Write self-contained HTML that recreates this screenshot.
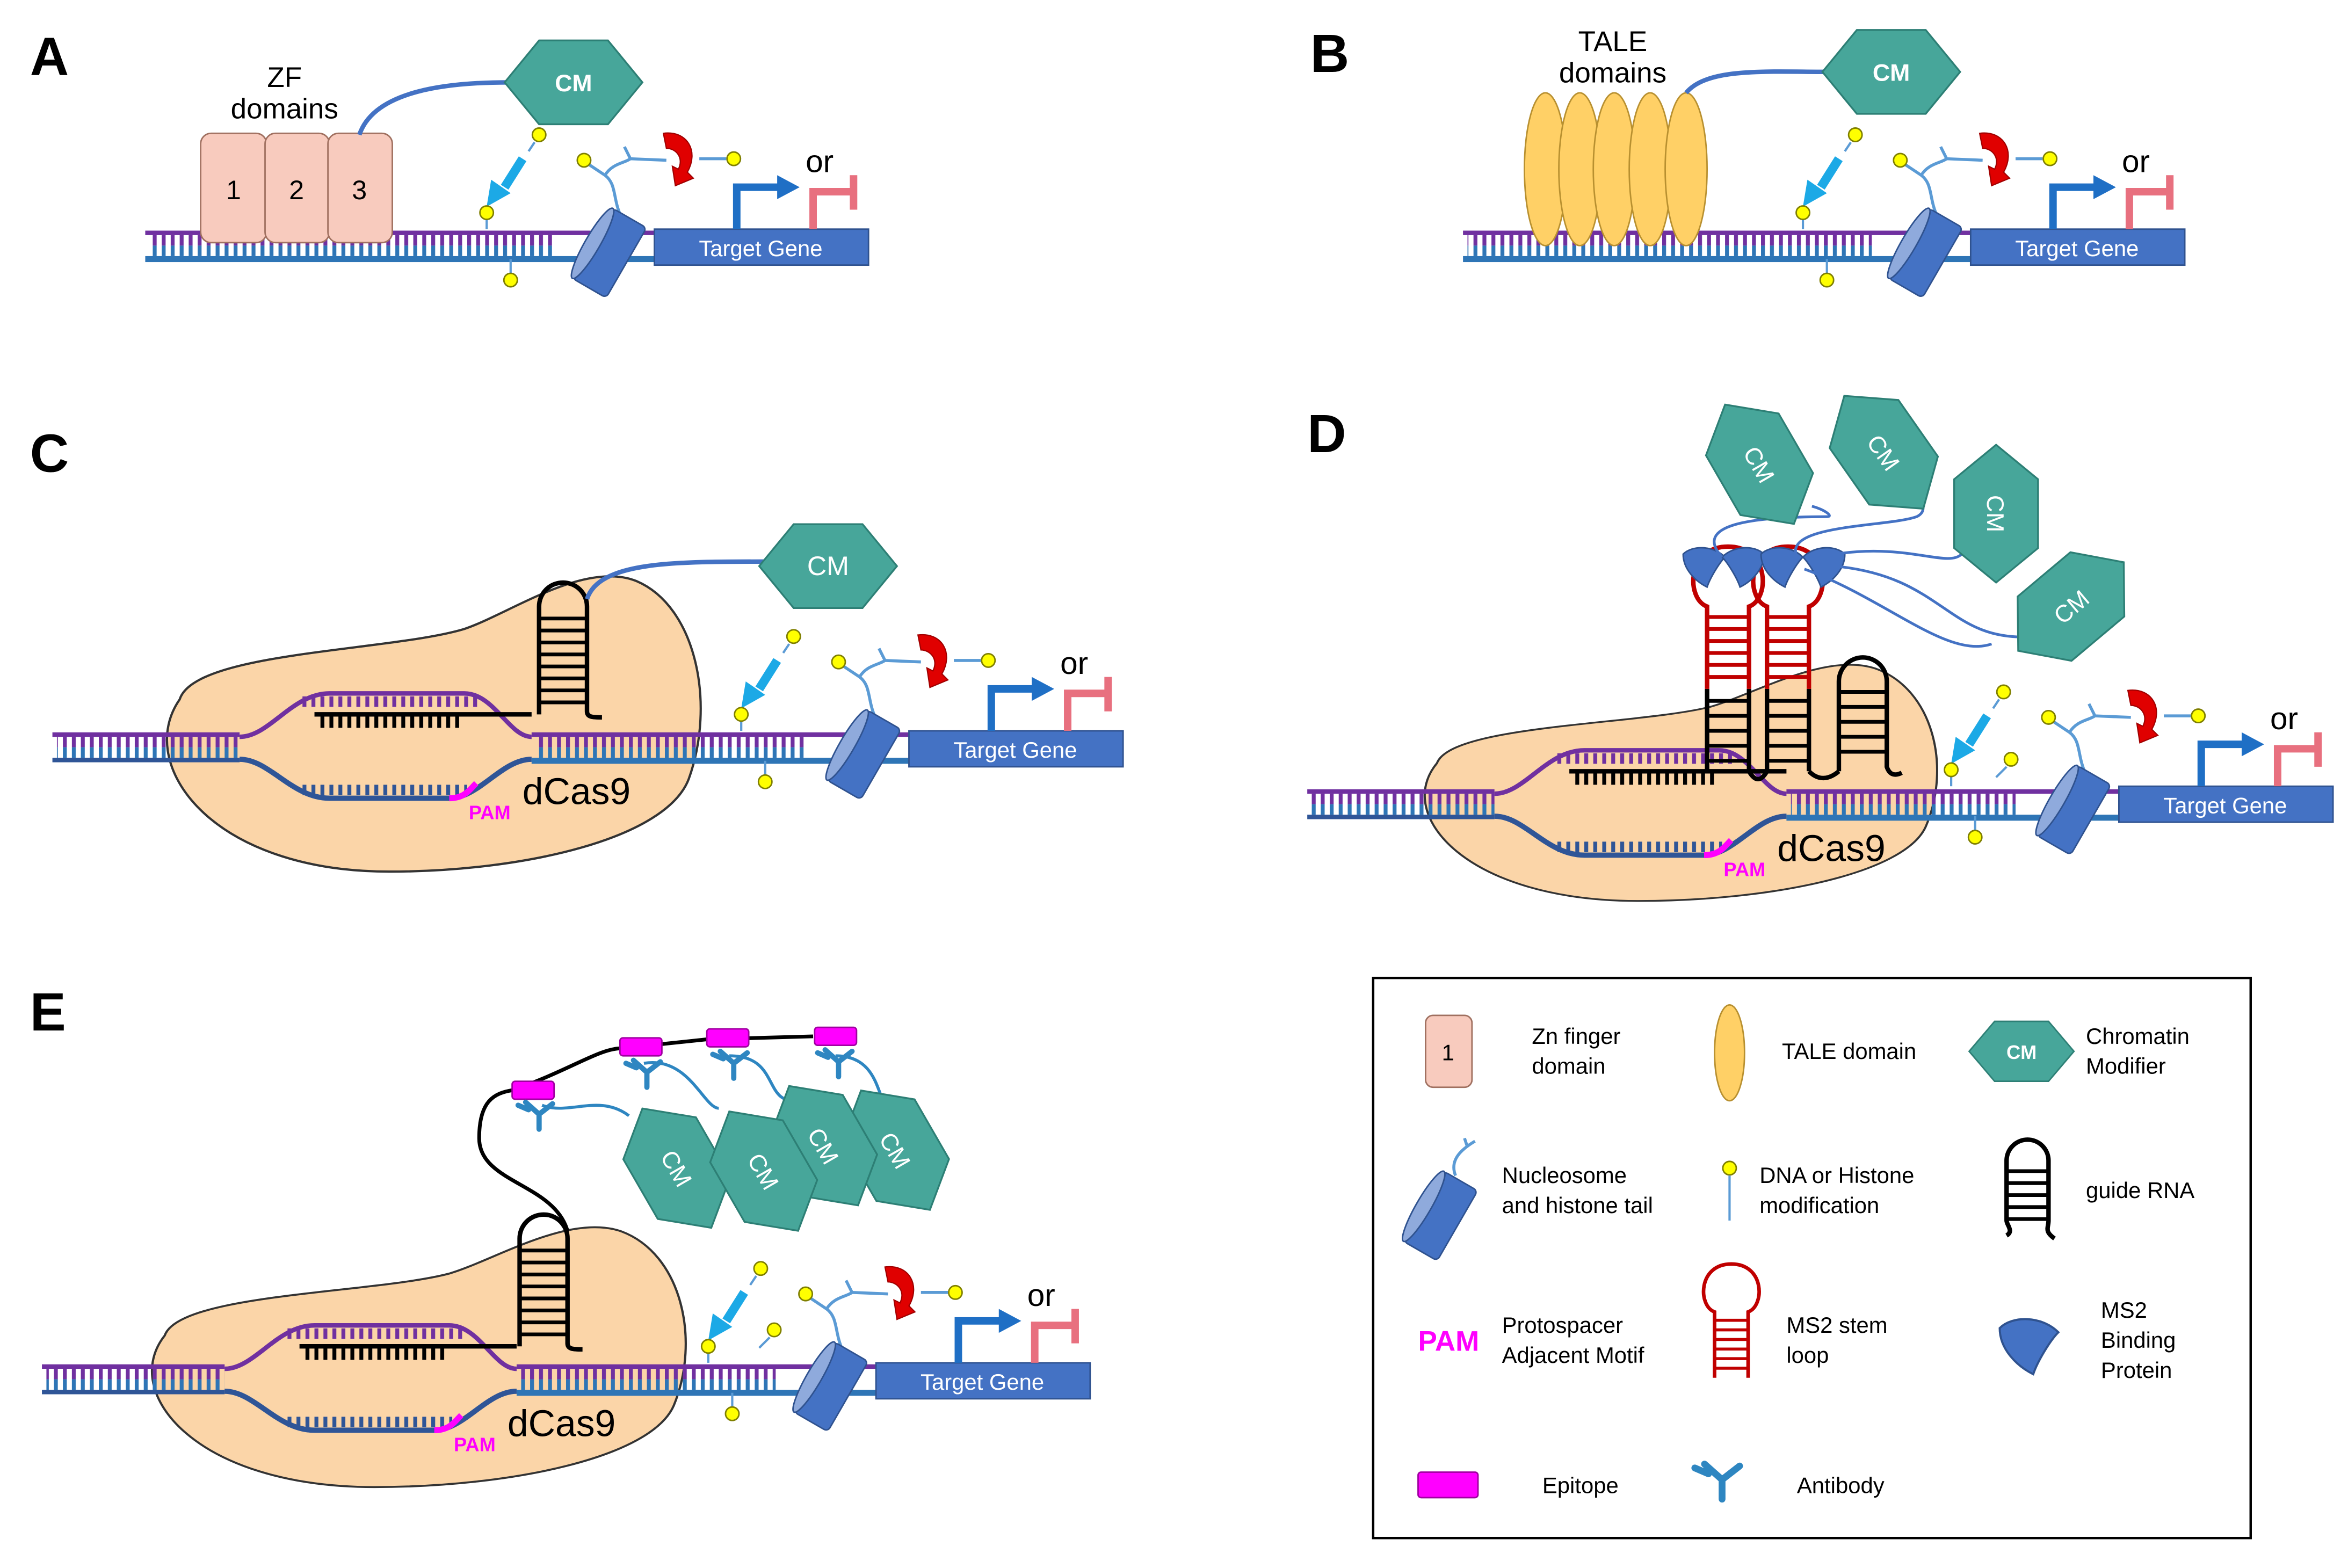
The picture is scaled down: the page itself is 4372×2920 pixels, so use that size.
<!DOCTYPE html>
<html><head><meta charset="utf-8"><style>
html,body{margin:0;padding:0;background:#fff}
svg{display:block}
text{font-family:"Liberation Sans",sans-serif}
</style></head><body>
<svg xmlns="http://www.w3.org/2000/svg" xmlns:xlink="http://www.w3.org/1999/xlink" width="4372" height="2920" viewBox="0 0 1568 1047" preserveAspectRatio="none">
<defs>
<pattern id="tp" width="6" height="10" patternUnits="userSpaceOnUse"><rect x="0" y="0" width="2.6" height="10" fill="#7030A0"/></pattern>
<pattern id="tb" width="6" height="10" patternUnits="userSpaceOnUse"><rect x="0" y="0" width="2.6" height="10" fill="#2E75B6"/></pattern>
<pattern id="tk" width="6" height="10" patternUnits="userSpaceOnUse"><rect x="0" y="0" width="2.6" height="10" fill="#000"/></pattern>
<pattern id="td" width="6" height="10" patternUnits="userSpaceOnUse"><rect x="0" y="0" width="2.6" height="10" fill="#2F5597"/></pattern>
<g id="hex"><polygon points="-46,0 -23,-28 23,-28 46,0 23,28 -23,28" fill="#47A69A" stroke="#2d7f75" stroke-width="1.2"/></g>
<g id="nuc"><g transform="rotate(30)"><rect x="-13" y="-27" width="26" height="54" rx="3" fill="#4472C4" stroke="#2f528f" stroke-width="1"/><ellipse cx="-13" cy="0" rx="5" ry="27" fill="#8FAADC" stroke="#2f528f" stroke-width="1"/></g></g>
<g id="yd"><circle r="4.5" fill="#FFFF00" stroke="#7f7f00" stroke-width="1"/></g>
<g id="prom">
 <rect x="0" y="0" width="143" height="24" fill="#4472C4" stroke="#2f528f"/>
 <text x="71" y="18" font-size="15" fill="#fff" text-anchor="middle">Target Gene</text>
 <path d="M-22,-8 C-28,-20 -25,-30 -33,-36 M-33,-36 L-45,-44 M-33,-36 C-28,-44 -20,-44 -16,-47 M-16,-47 L-20,-55 M-16,-47 L8,-46" fill="none" stroke="#5B9BD5" stroke-width="2"/>
 <use xlink:href="#yd" x="-47" y="-46"/>
 <path d="M6,-64 C22,-66 30,-52 22,-38 L26,-34 L14,-29 L12,-42 L16,-40 C20,-48 14,-54 8,-54 Z" fill="#E00000" stroke="#a00000" stroke-width="0.8"/>
 <line x1="30" y1="-47" x2="48" y2="-47" stroke="#5B9BD5" stroke-width="2"/>
 <use xlink:href="#yd" x="53" y="-47"/>
 <use xlink:href="#nuc" x="-30" y="16"/>
 <path d="M55,0 L55,-28 L84,-28" fill="none" stroke="#1F6FC5" stroke-width="5"/>
 <polygon points="82,-36 97,-28 82,-20" fill="#1F6FC5"/>
 <text x="101" y="-38" font-size="21" fill="#000">or</text>
 <path d="M106,0 L106,-25 L133,-25 M133,-36 L133,-13" fill="none" stroke="#E8707F" stroke-width="5"/>
</g>
<g id="mod">
 <use xlink:href="#yd" x="-77" y="-63"/>
 <line x1="-80" y1="-58" x2="-84" y2="-52" stroke="#5B9BD5" stroke-width="1.5"/>
 <path d="M-88,-47 L-100,-28" stroke="#1CA9E6" stroke-width="6" fill="none"/>
 <polygon points="-109,-33 -112,-15 -96,-24" fill="#1CA9E6"/>
 <line x1="-112" y1="-10" x2="-112" y2="0" stroke="#5B9BD5" stroke-width="1.5"/>
 <use xlink:href="#yd" x="-112" y="-11"/>
 <line x1="-96" y1="20" x2="-96" y2="30" stroke="#5B9BD5" stroke-width="1.5"/>
 <use xlink:href="#yd" x="-96" y="34"/>
</g>
<g id="blob"><path d="M-40,-23 C-70,20 -20,92 100,92 C190,92 285,70 300,30 C318,-20 305,-85 265,-102 C230,-116 180,-80 150,-70 C100,-55 -30,-55 -40,-23 Z" fill="#FBD5A8" stroke="#333" stroke-width="1.5"/></g>
<g id="cas">
 <path d="M0,2 C20,2 35,-27 60,-27 L150,-27 C170,-27 180,2 195,2" fill="none" stroke="#7030A0" stroke-width="3"/>
 <rect x="40" y="-25" width="120" height="7" fill="url(#tp)"/>
 <path d="M0,17 C20,17 35,43 60,43 L140,43 C160,43 175,17 195,17" fill="none" stroke="#2F5597" stroke-width="3.5"/>
 <rect x="42" y="34" width="110" height="7" fill="url(#td)"/>
 <rect x="52" y="-12" width="95" height="8" fill="url(#tk)"/>
 <line x1="50" y1="-13" x2="195" y2="-13" stroke="#000" stroke-width="3"/>
 <path d="M140,43 C150,43 153,38 158,33" fill="none" stroke="#FF00FF" stroke-width="4"/>
 <text x="167" y="57" font-size="13" font-weight="bold" fill="#FF00FF" text-anchor="middle">PAM</text>
 <text x="225" y="47" font-size="25" fill="#000" text-anchor="middle">dCas9</text>
</g>
<g id="hp">
 <path d="M0,0 L0,-72 A16,16 0 0 1 32,-72 L32,-2 C32,2 36,2 42,2" fill="none" stroke="#000" stroke-width="3"/>
 <g stroke="#000" stroke-width="2.5"><line x1="0" y1="-64" x2="32" y2="-64"/><line x1="0" y1="-56" x2="32" y2="-56"/><line x1="0" y1="-48" x2="32" y2="-48"/><line x1="0" y1="-40" x2="32" y2="-40"/><line x1="0" y1="-32" x2="32" y2="-32"/><line x1="0" y1="-24" x2="32" y2="-24"/><line x1="0" y1="-16" x2="32" y2="-16"/><line x1="0" y1="-8" x2="32" y2="-8"/></g>
</g>
<g id="ms2">
 <path d="M0,0 L0,-55 C-14,-60 -14,-95 14,-95 C42,-95 42,-60 28,-55 L28,0" fill="none" stroke="#C00000" stroke-width="3"/>
 <g stroke="#C00000" stroke-width="2.5"><line x1="0" y1="-48" x2="28" y2="-48"/><line x1="0" y1="-40" x2="28" y2="-40"/><line x1="0" y1="-32" x2="28" y2="-32"/><line x1="0" y1="-24" x2="28" y2="-24"/><line x1="0" y1="-16" x2="28" y2="-16"/><line x1="0" y1="-8" x2="28" y2="-8"/></g>
</g>
<g id="mbp"><path d="M-14,-8 C-8,-14 6,-14 14,-6 C10,-2 4,8 2,14 C-6,10 -14,2 -14,-8 Z" fill="#4472C4" stroke="#2f528f"/></g>
<g id="ab"><path d="M0,0 L0,10 M0,0 L-9,-8 M0,0 L9,-7 M-14,-6 L-7,-3" fill="none" stroke="#2E86C1" stroke-width="3.5" stroke-linecap="round"/></g>
<g id="epi"><rect x="-14" y="-6" width="28" height="12" rx="2" fill="#FF00FF" stroke="#a000a0"/></g>
</defs>

<g font-size="36" font-weight="bold" fill="#000">
<text x="20" y="50">A</text><text x="875" y="48">B</text><text x="20" y="315">C</text><text x="873" y="302">D</text><text x="20" y="688">E</text>
</g>

<!-- ===== A ===== -->
<rect x="97" y="154" width="340" height="3" fill="#7030A0"/>
<rect x="100" y="157" width="270" height="7" fill="url(#tp)"/>
<rect x="100" y="164" width="270" height="7" fill="url(#tb)"/>
<rect x="97" y="171" width="340" height="4" fill="#2E75B6"/>
<g fill="#F8CBBE" stroke="#a07060" stroke-width="1">
<rect x="134" y="89" width="44" height="73" rx="7"/><rect x="177" y="89" width="43" height="73" rx="7"/><rect x="219" y="89" width="43" height="73" rx="7"/></g>
<g font-size="18" text-anchor="middle"><text x="156" y="133">1</text><text x="198" y="133">2</text><text x="240" y="133">3</text></g>
<text x="190" y="58" font-size="19" text-anchor="middle">ZF</text>
<text x="190" y="79" font-size="19" text-anchor="middle">domains</text>
<path d="M240,90 C250,60 300,55 340,55" fill="none" stroke="#4472C4" stroke-width="3"/>
<use xlink:href="#hex" x="383" y="55"/><text x="383" y="61" font-size="16" font-weight="bold" fill="#fff" text-anchor="middle">CM</text>
<use xlink:href="#mod" x="437" y="153"/>
<use xlink:href="#prom" x="437" y="153"/>

<!-- ===== B ===== -->
<rect x="977" y="154" width="339" height="3" fill="#7030A0"/>
<rect x="980" y="157" width="270" height="7" fill="url(#tp)"/>
<rect x="980" y="164" width="270" height="7" fill="url(#tb)"/>
<rect x="977" y="171" width="339" height="4" fill="#2E75B6"/>
<g fill="#FFD066" stroke="#b89030" stroke-width="1">
<ellipse cx="1032" cy="113" rx="14" ry="51"/><ellipse cx="1055" cy="113" rx="14" ry="51"/><ellipse cx="1078" cy="113" rx="14" ry="51"/><ellipse cx="1102" cy="113" rx="14" ry="51"/><ellipse cx="1126" cy="113" rx="14" ry="51"/></g>
<text x="1077" y="34" font-size="19" text-anchor="middle">TALE</text>
<text x="1077" y="55" font-size="19" text-anchor="middle">domains</text>
<path d="M1126,62 C1140,45 1180,48 1220,48" fill="none" stroke="#4472C4" stroke-width="3"/>
<use xlink:href="#hex" x="1263" y="48"/><text x="1263" y="54" font-size="16" font-weight="bold" fill="#fff" text-anchor="middle">CM</text>
<use xlink:href="#mod" x="1316" y="153"/>
<use xlink:href="#prom" x="1316" y="153"/>

<!-- ===== C ===== -->
<use xlink:href="#blob" x="160" y="490"/>
<rect x="35" y="489" width="125" height="3" fill="#7030A0"/>
<rect x="38" y="492" width="122" height="7" fill="url(#tp)"/>
<rect x="38" y="499" width="122" height="7" fill="url(#tb)"/>
<rect x="35" y="506" width="125" height="3" fill="#2F5597"/>
<use xlink:href="#cas" x="160" y="490"/>
<rect x="355" y="489" width="252" height="3" fill="#7030A0"/>
<rect x="358" y="492" width="180" height="7" fill="url(#tp)"/>
<rect x="358" y="499" width="180" height="7" fill="url(#tb)"/>
<rect x="355" y="506" width="252" height="4" fill="#2E75B6"/>
<use xlink:href="#hp" x="360" y="477"/>
<path d="M392,400 C400,375 450,375 510,375" fill="none" stroke="#4472C4" stroke-width="3"/>
<use xlink:href="#hex" x="553" y="378"/><text x="553" y="384" font-size="18" fill="#fff" text-anchor="middle">CM</text>
<use xlink:href="#mod" x="607" y="488"/>
<use xlink:href="#prom" x="607" y="488"/>

<!-- ===== D ===== -->
<g transform="translate(998,528) scale(0.96,0.8)"><use xlink:href="#blob"/></g>
<rect x="873" y="527" width="125" height="3" fill="#7030A0"/>
<rect x="876" y="530" width="122" height="7" fill="url(#tp)"/>
<rect x="876" y="537" width="122" height="7" fill="url(#tb)"/>
<rect x="873" y="544" width="125" height="3" fill="#2F5597"/>
<use xlink:href="#cas" x="998" y="528"/>
<rect x="1193" y="527" width="222" height="3" fill="#7030A0"/>
<rect x="1196" y="530" width="150" height="7" fill="url(#tp)"/>
<rect x="1196" y="537" width="150" height="7" fill="url(#tb)"/>
<rect x="1193" y="544" width="222" height="4" fill="#2E75B6"/>
<path d="M1140,515 L1140,460 M1168,515 L1168,460 M1180,515 L1180,460 M1208,515 L1208,460" stroke="#000" stroke-width="3"/>
<g stroke="#000" stroke-width="2.5"><line x1="1140" y1="468" x2="1168" y2="468"/><line x1="1140" y1="478" x2="1168" y2="478"/><line x1="1140" y1="488" x2="1168" y2="488"/><line x1="1140" y1="498" x2="1168" y2="498"/><line x1="1140" y1="508" x2="1168" y2="508"/>
<line x1="1180" y1="468" x2="1208" y2="468"/><line x1="1180" y1="478" x2="1208" y2="478"/><line x1="1180" y1="488" x2="1208" y2="488"/><line x1="1180" y1="498" x2="1208" y2="498"/><line x1="1180" y1="508" x2="1208" y2="508"/></g>
<path d="M1168,515 C1172,522 1176,522 1180,515 M1208,515 C1215,522 1222,520 1228,515" fill="none" stroke="#000" stroke-width="3"/>
<use xlink:href="#ms2" x="1140" y="460"/>
<use xlink:href="#ms2" x="1180" y="460"/>
<path d="M1228,515 L1228,455 A16,16 0 0 1 1260,455 L1260,512 C1262,518 1266,518 1270,516" fill="none" stroke="#000" stroke-width="3"/>
<g stroke="#000" stroke-width="2.5"><line x1="1228" y1="462" x2="1260" y2="462"/><line x1="1228" y1="472" x2="1260" y2="472"/><line x1="1228" y1="482" x2="1260" y2="482"/><line x1="1228" y1="492" x2="1260" y2="492"/><line x1="1228" y1="502" x2="1260" y2="502"/></g>
<use xlink:href="#mbp" x="1138" y="378"/><use xlink:href="#mbp" x="1164" y="378" transform="translate(2328,0) scale(-1,1)"/>
<use xlink:href="#mbp" x="1190" y="378"/><use xlink:href="#mbp" x="1218" y="378" transform="translate(2436,0) scale(-1,1)"/>
<g fill="none" stroke="#4472C4" stroke-width="1.8">
<path d="M1150,372 C1130,350 1170,345 1220,345 C1225,345 1218,340 1210,338"/>
<path d="M1200,372 C1190,350 1260,352 1280,345 C1290,340 1280,330 1275,325"/>
<path d="M1215,372 C1270,360 1300,380 1310,370"/>
<path d="M1225,378 C1300,385 1300,430 1360,425 C1375,423 1372,415 1370,410"/>
<path d="M1205,380 C1260,400 1300,440 1330,430"/>
</g>
<g transform="translate(1175,310) rotate(60)"><use xlink:href="#hex"/><text y="6" font-size="16" fill="#fff" text-anchor="middle">CM</text></g>
<g transform="translate(1258,302) rotate(55)"><use xlink:href="#hex"/><text y="6" font-size="16" fill="#fff" text-anchor="middle">CM</text></g>
<g transform="translate(1333,343) rotate(90)"><use xlink:href="#hex"/><text y="6" font-size="16" fill="#fff" text-anchor="middle">CM</text></g>
<g transform="translate(1383,405) rotate(-40)"><use xlink:href="#hex"/><text y="6" font-size="16" fill="#fff" text-anchor="middle">CM</text></g>
<use xlink:href="#mod" x="1415" y="525"/>
<use xlink:href="#yd" x="1343" y="507"/><line x1="1340" y1="512" x2="1333" y2="519" stroke="#5B9BD5" stroke-width="1.5"/>
<use xlink:href="#prom" x="1415" y="525"/>

<!-- ===== E ===== -->
<g transform="translate(150,912) scale(1,0.88)"><use xlink:href="#blob"/></g>
<rect x="28" y="911" width="122" height="3" fill="#7030A0"/>
<rect x="31" y="914" width="119" height="7" fill="url(#tp)"/>
<rect x="31" y="921" width="119" height="7" fill="url(#tb)"/>
<rect x="28" y="928" width="122" height="3" fill="#2F5597"/>
<use xlink:href="#cas" x="150" y="912"/>
<rect x="345" y="911" width="240" height="3" fill="#7030A0"/>
<rect x="348" y="914" width="170" height="7" fill="url(#tp)"/>
<rect x="348" y="921" width="170" height="7" fill="url(#tb)"/>
<rect x="345" y="928" width="240" height="4" fill="#2E75B6"/>
<use xlink:href="#hp" x="347" y="899"/>
<path d="M379,822 C370,790 320,790 320,760 C320,735 330,730 342,728 C380,715 400,700 415,700 L472,694 L543,692" fill="none" stroke="#000" stroke-width="2.5"/>
<g fill="none" stroke="#2E86C1" stroke-width="2">
<path d="M362,738 C380,745 400,730 420,745"/>
<path d="M430,710 C460,705 470,740 480,740"/>
<path d="M487,705 C520,705 510,735 530,735"/>
<path d="M558,705 C590,705 585,740 595,740"/>
</g>
<use xlink:href="#epi" x="356" y="728"/><use xlink:href="#ab" x="360" y="744"/>
<use xlink:href="#epi" x="428" y="699"/><use xlink:href="#ab" x="432" y="716"/>
<use xlink:href="#epi" x="486" y="693"/><use xlink:href="#ab" x="490" y="710"/>
<use xlink:href="#epi" x="558" y="692"/><use xlink:href="#ab" x="560" y="709"/>
<g transform="translate(452,780) rotate(60)"><use xlink:href="#hex"/><text y="6" font-size="16" fill="#fff" text-anchor="middle">CM</text></g>
<g transform="translate(598,768) rotate(60)"><use xlink:href="#hex"/><text y="6" font-size="16" fill="#fff" text-anchor="middle">CM</text></g>
<g transform="translate(550,765) rotate(60)"><use xlink:href="#hex"/><text y="6" font-size="16" fill="#fff" text-anchor="middle">CM</text></g>
<g transform="translate(510,782) rotate(60)"><use xlink:href="#hex"/><text y="6" font-size="16" fill="#fff" text-anchor="middle">CM</text></g>
<use xlink:href="#mod" x="585" y="910"/>
<use xlink:href="#yd" x="517" y="888"/><line x1="514" y1="893" x2="507" y2="900" stroke="#5B9BD5" stroke-width="1.5"/>
<use xlink:href="#prom" x="585" y="910"/>

<!-- ===== Legend ===== -->
<rect x="917" y="653" width="586" height="374" fill="#fff" stroke="#000" stroke-width="1.6"/>
<g font-size="15" fill="#000">
<rect x="952" y="678" width="31" height="48" rx="5" fill="#F8CBBE" stroke="#a07060"/>
<text x="967" y="708" text-anchor="middle">1</text>
<text x="1023" y="697">Zn finger</text><text x="1023" y="717">domain</text>
<ellipse cx="1155" cy="703" rx="10" ry="32" fill="#FFD066" stroke="#b89030"/>
<text x="1190" y="707">TALE domain</text>
<polygon points="1315,702 1332,682 1368,682 1385,702 1368,722 1332,722" fill="#47A69A" stroke="#2d7f75"/>
<text x="1350" y="707" font-size="13" font-weight="bold" fill="#fff" text-anchor="middle">CM</text>
<text x="1393" y="697">Chromatin</text><text x="1393" y="717">Modifier</text>

<use xlink:href="#nuc" x="962" y="812"/>
<path d="M972,785 C968,775 975,768 985,762 M980,766 L978,760" fill="none" stroke="#5B9BD5" stroke-width="2"/>
<text x="1003" y="790">Nucleosome</text><text x="1003" y="810">and histone tail</text>
<use xlink:href="#yd" x="1155" y="780"/><line x1="1155" y1="785" x2="1155" y2="815" stroke="#5B9BD5" stroke-width="1.5"/>
<text x="1175" y="790">DNA or Histone</text><text x="1175" y="810">modification</text>
<path d="M1340,825 C1345,822 1340,818 1340,815 L1340,775 A14,14 0 0 1 1368,775 L1368,815 C1368,820 1365,822 1372,827" fill="none" stroke="#000" stroke-width="3"/>
<g stroke="#000" stroke-width="2.5"><line x1="1340" y1="782" x2="1368" y2="782"/><line x1="1340" y1="790" x2="1368" y2="790"/><line x1="1340" y1="798" x2="1368" y2="798"/><line x1="1340" y1="806" x2="1368" y2="806"/><line x1="1340" y1="814" x2="1368" y2="814"/></g>
<text x="1393" y="800">guide RNA</text>

<text x="947" y="902" font-size="19" font-weight="bold" fill="#FF00FF">PAM</text>
<text x="1003" y="890">Protospacer</text><text x="1003" y="910">Adjacent Motif</text>
<g transform="translate(1145,920) scale(0.8)"><use xlink:href="#ms2"/></g>
<text x="1193" y="890">MS2 stem</text><text x="1193" y="910">loop</text>
<g transform="translate(1355,898) scale(1.4)"><use xlink:href="#mbp"/></g>
<text x="1403" y="880">MS2</text><text x="1403" y="900">Binding</text><text x="1403" y="920">Protein</text>

<rect x="947" y="983" width="40" height="17" rx="2" fill="#FF00FF" stroke="#a000a0"/>
<text x="1030" y="997">Epitope</text>
<g transform="translate(1150,988) scale(1.3)"><use xlink:href="#ab"/></g>
<text x="1200" y="997">Antibody</text>
</g>
</svg>
</body></html>
